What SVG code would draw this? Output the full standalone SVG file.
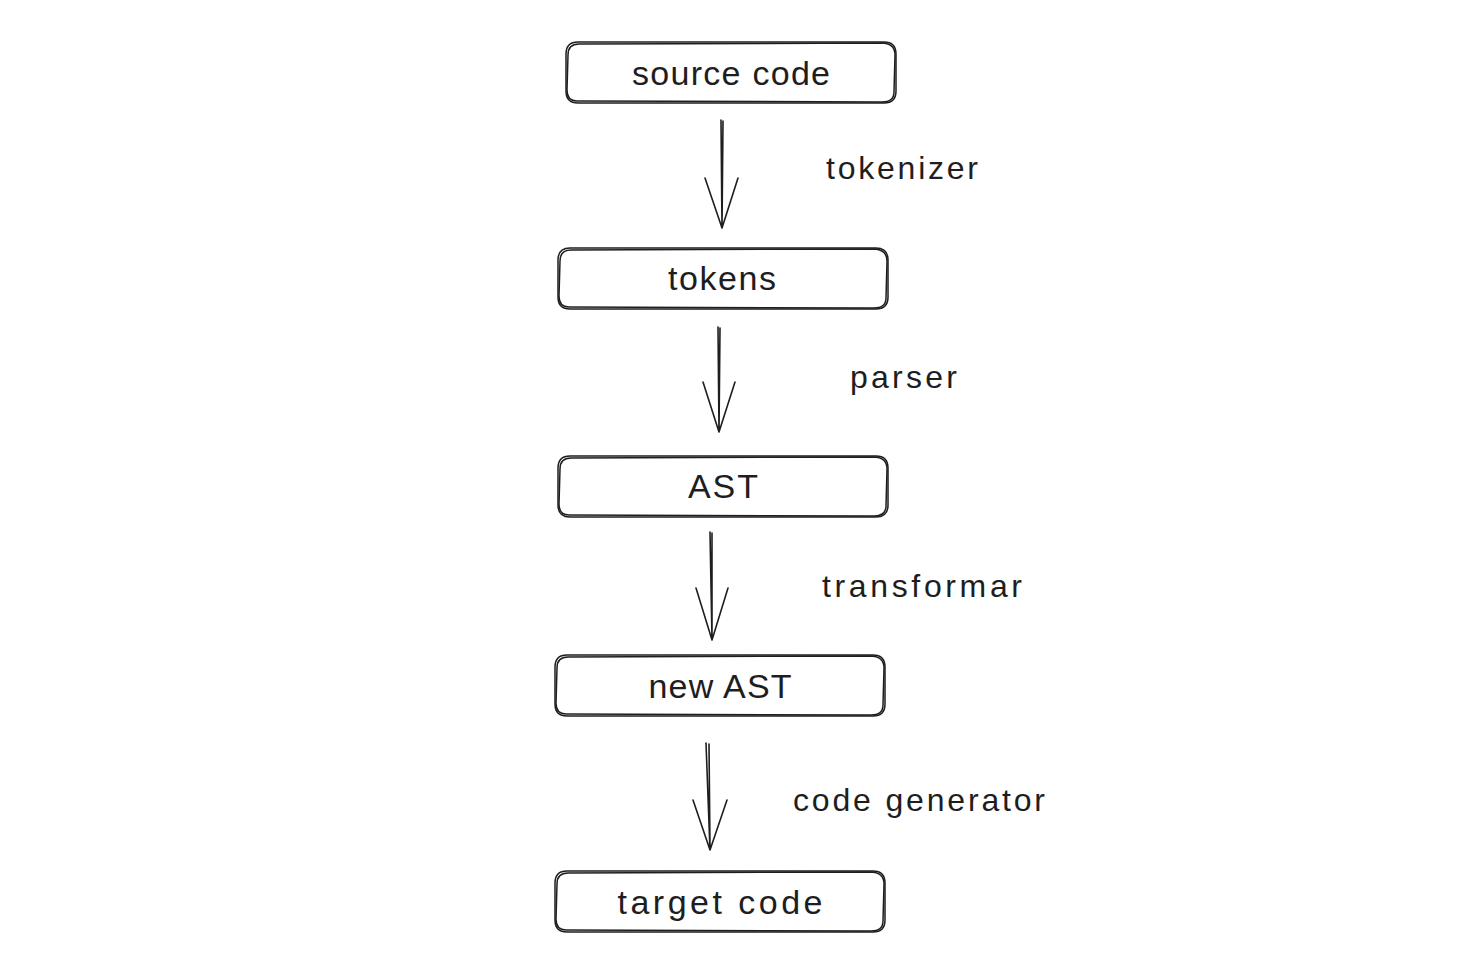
<svg xmlns="http://www.w3.org/2000/svg" width="1462" height="980" viewBox="0 0 1462 980">
<style>
.box{fill:none;stroke:#1e1e1e;stroke-width:1.5;stroke-linecap:round;stroke-linejoin:round}
.ln{fill:none;stroke:#1e1e1e;stroke-width:1.6;stroke-linecap:round}
.t{font-family:"Liberation Sans",Arial,sans-serif;font-size:34px;fill:#1e1e1e;text-anchor:middle;dominant-baseline:central}
.l{font-family:"Liberation Sans",Arial,sans-serif;font-size:32px;fill:#1e1e1e;text-anchor:start;dominant-baseline:central}
</style>
<rect width="1462" height="980" fill="#ffffff"/>
<g id="node-source-code">
<path class="box" d="M578 42 L884 42 Q896 42 896 54 L896 91 Q896 103 884 103 L578 103 Q566 103 566 91 L566 54 Q566 42 578 42 Z"/>
<path class="box" d="M579 44 L883 43 Q895 44 895 55 L894 92 Q894 102 882 102 L577 101 Q567 101 567 90 L568 55 Q568 44 579 44 Z"/>
<text class="t" x="731" y="73" textLength="198" lengthAdjust="spacing">source code</text>
</g>
<g id="node-tokens">
<path class="box" d="M570 248 L876 248 Q888 248 888 260 L888 297 Q888 309 876 309 L570 309 Q558 309 558 297 L558 260 Q558 248 570 248 Z"/>
<path class="box" d="M571 250 L875 249 Q887 250 887 261 L886 298 Q886 308 874 308 L569 307 Q559 307 559 296 L560 261 Q560 250 571 250 Z"/>
<text class="t" x="722" y="278" textLength="108" lengthAdjust="spacing">tokens</text>
</g>
<g id="node-ast">
<path class="box" d="M570 456 L876 456 Q888 456 888 468 L888 505 Q888 517 876 517 L570 517 Q558 517 558 505 L558 468 Q558 456 570 456 Z"/>
<path class="box" d="M571 458 L875 457 Q887 458 887 469 L886 506 Q886 516 874 516 L569 515 Q559 515 559 504 L560 469 Q560 458 571 458 Z"/>
<text class="t" x="723" y="486" textLength="70" lengthAdjust="spacing">AST</text>
</g>
<g id="node-new-ast">
<path class="box" d="M567 655 L873 655 Q885 655 885 667 L885 704 Q885 716 873 716 L567 716 Q555 716 555 704 L555 667 Q555 655 567 655 Z"/>
<path class="box" d="M568 657 L872 656 Q884 657 884 668 L883 705 Q883 715 871 715 L566 714 Q556 714 556 703 L557 668 Q557 657 568 657 Z"/>
<text class="t" x="720" y="686" textLength="143" lengthAdjust="spacing">new AST</text>
</g>
<g id="node-target-code">
<path class="box" d="M567 871 L873 871 Q885 871 885 883 L885 920 Q885 932 873 932 L567 932 Q555 932 555 920 L555 883 Q555 871 567 871 Z"/>
<path class="box" d="M568 873 L872 872 Q884 873 884 884 L883 921 Q883 931 871 931 L566 930 Q556 930 556 919 L557 884 Q557 873 568 873 Z"/>
<text class="t" x="720" y="902" textLength="205" lengthAdjust="spacing">target code</text>
</g>
<g id="connectors">
<path class="ln" d="M721 120 L722 228 M723 121 L722 227 M705 178 L722 228 M738 178 L722 228"/>
<path class="ln" d="M718 327 L719 432 M720 328 L719 431 M703 382 L719 432 M735 382 L719 432"/>
<path class="ln" d="M710 532 L712 640 M712 533 L712 639 M696 588 L712 640 M728 588 L712 640"/>
<path class="ln" d="M706 743 L710 850 M709 744 L710 849 M693 800 L710 850 M727 800 L710 850"/>
</g>
<g id="labels">
<text class="l" x="826" y="168" textLength="152" lengthAdjust="spacing">tokenizer</text>
<text class="l" x="850" y="377" textLength="107" lengthAdjust="spacing">parser</text>
<text class="l" x="822" y="586" textLength="200" lengthAdjust="spacing">transformar</text>
<text class="l" x="793" y="800" textLength="252" lengthAdjust="spacing">code generator</text>
</g>
</svg>
